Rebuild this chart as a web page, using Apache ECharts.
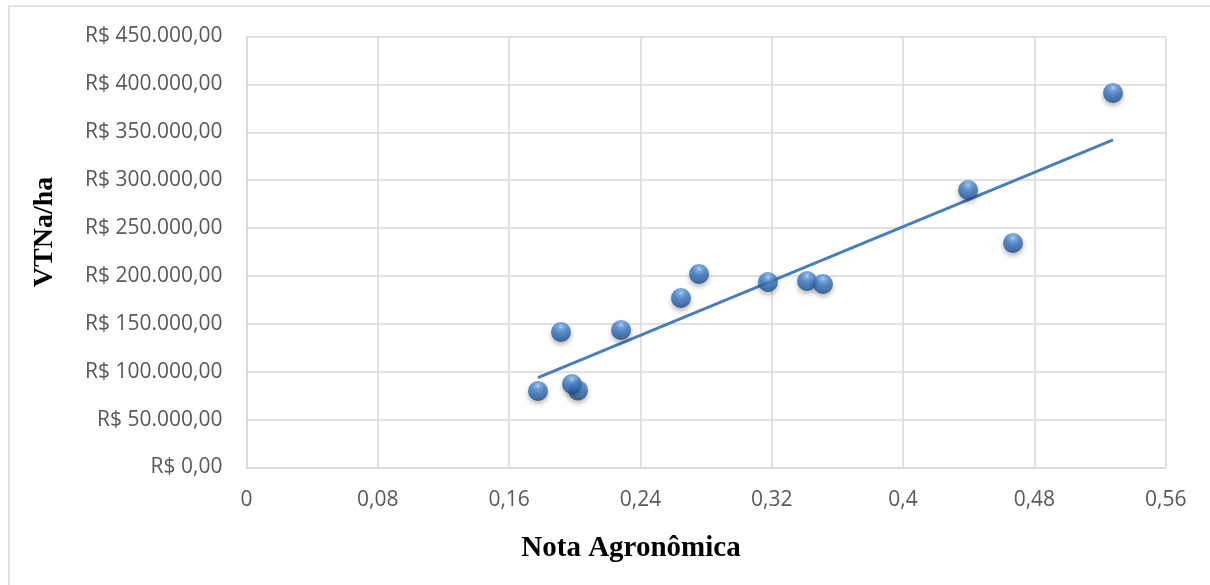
<!DOCTYPE html>
<html>
<head>
<meta charset="utf-8">
<script src="https://cdn.jsdelivr.net/npm/echarts@6/dist/echarts.min.js"></script>
<style>
  html, body { margin: 0; padding: 0; background: #ffffff; }
  #chart { width: 1210px; height: 585px; }
</style>
</head>
<body>
<div id="chart"></div>
<script>
// Nota agronômica de cada imóvel e o respectivo valor da terra nua por hectare
const notaAgronomica = [0.1776, 0.1916, 0.2020, 0.1983, 0.2282, 0.2647, 0.2757, 0.3177, 0.3415, 0.3512, 0.4396, 0.4670, 0.5279];
const vtnaHa        = [79900, 141500, 80500, 87200, 143600, 177000, 202000, 193700, 194700, 191600, 289700, 234400, 391000];

const xTitle = 'Nota Agronômica';
const yTitle = 'VTNa/ha';

// Linear least-squares trend line over the observed range
function linearTrend(xs, ys) {
  const n = xs.length;
  const mx = xs.reduce((a, b) => a + b, 0) / n;
  const my = ys.reduce((a, b) => a + b, 0) / n;
  let sxy = 0, sxx = 0;
  for (let i = 0; i < n; i++) {
    sxy += (xs[i] - mx) * (ys[i] - my);
    sxx += (xs[i] - mx) * (xs[i] - mx);
  }
  const b = sxy / sxx;
  const a = my - b * mx;
  const x0 = Math.min(...xs), x1 = Math.max(...xs);
  return [[x0, a + b * x0], [x1, a + b * x1]];
}

function formatReal(v) {
  const parts = Math.round(v).toString().replace(/\B(?=(\d{3})+(?!\d))/g, '.');
  return 'R$ ' + parts + ',00';
}

function formatNota(v) {
  return parseFloat(v.toFixed(2)).toString().replace('.', ',');
}

const points = notaAgronomica.map((x, i) => [x, vtnaHa[i]]);
const trend = linearTrend(notaAgronomica, vtnaHa);

const gridColor = '#d9d9d9';
const labelFont = { fontFamily: 'Open Sans', fontSize: 21, color: '#595959' };

const chart = echarts.init(document.getElementById('chart'), null, { renderer: 'canvas' });

chart.setOption({
  backgroundColor: '#ffffff',
  animation: false,
  grid: { left: 246.5, right: 44.3, top: 36.5, bottom: 117.5, containLabel: false },
  xAxis: {
    type: 'value',
    min: 0, max: 0.56, interval: 0.08,
    axisLine: { show: true, lineStyle: { color: gridColor, width: 1.5 } },
    axisTick: { show: false },
    splitLine: { show: true, lineStyle: { color: gridColor, width: 1.5 } },
    axisLabel: Object.assign({ margin: 22, formatter: formatNota, showMaxLabel: true, showMinLabel: true }, labelFont)
  },
  yAxis: {
    type: 'value',
    min: 0, max: 450000, interval: 50000,
    axisLine: { show: true, lineStyle: { color: gridColor, width: 1.5 } },
    axisTick: { show: false },
    splitLine: { show: true, lineStyle: { color: gridColor, width: 1.5 } },
    axisLabel: Object.assign({ margin: 24, formatter: formatReal }, labelFont)
  },
  graphic: [
    {
      type: 'rect', silent: true, z: -10,
      shape: { x: 9, y: 6, width: 1300, height: 700 },
      style: { fill: 'none', stroke: gridColor, lineWidth: 1.5 }
    },
    {
      type: 'text', silent: true,
      x: 631, y: 549,
      style: {
        text: xTitle, x: 0, y: 0, align: 'center', verticalAlign: 'middle',
        font: 'bold 29px "Liberation Serif", "Times New Roman", serif', fill: '#000000'
      }
    },
    {
      type: 'text', silent: true,
      x: 45, y: 232, rotation: Math.PI / 2,
      style: {
        text: yTitle, x: 0, y: 0, align: 'center', verticalAlign: 'middle',
        font: 'bold 28px "Liberation Serif", "Times New Roman", serif', fill: '#000000'
      }
    }
  ],
  series: [
    {
      type: 'line',
      data: trend,
      showSymbol: false,
      symbol: 'none',
      lineStyle: { color: '#4a7ebb', width: 3 },
      z: 2,
      silent: true
    },
    {
      type: 'scatter',
      data: points,
      symbol: 'circle',
      symbolSize: 20,
      z: 3,
      itemStyle: {
        color: {
          type: 'radial', x: 0.5, y: 0.25, r: 0.75,
          colorStops: [
            { offset: 0, color: '#b8d8f8' },
            { offset: 0.15, color: '#6aa3e3' },
            { offset: 0.45, color: '#3a78c4' },
            { offset: 0.8, color: '#2a5fa6' },
            { offset: 1, color: '#1b3f70' }
          ]
        },
        shadowColor: 'rgba(0,0,0,0.35)',
        shadowBlur: 5,
        shadowOffsetY: 3
      }
    }
  ]
});
</script>
</body>
</html>
